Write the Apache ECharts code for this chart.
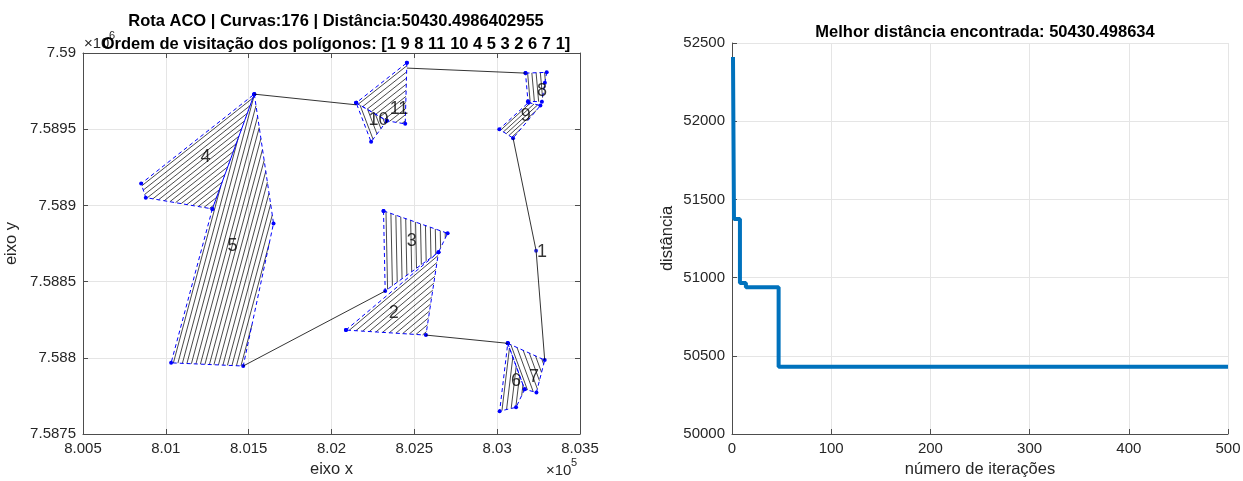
<!DOCTYPE html>
<html><head><meta charset="utf-8">
<script src="https://cdn.jsdelivr.net/npm/echarts@6/dist/echarts.min.js"></script>
<style>html,body{margin:0;padding:0;background:#fff}#c{width:1243px;height:481px}</style>
</head><body><div id="c"></div>
<script>
// ---------- Left plot data (metres, UTM-like) ----------
const poly1X = [803235];                          const poly1Y = [7588703];
const poly2X = [802087, 802646, 802570];          const poly2Y = [7588182, 7588693, 7588149];
const poly3X = [802314, 802701, 802646, 802324];  const poly3Y = [7588964, 7588817, 7588693, 7588438];
const poly4X = [801534, 801281, 800879, 800851];  const poly4Y = [7589730, 7588977, 7589051, 7589143];
const poly5X = [801534, 801650, 801467, 801032, 801281]; const poly5Y = [7589730, 7588882, 7587946, 7587967, 7588977];
const poly6X = [803064, 803166, 803114, 803015];  const poly6Y = [7588095, 7587793, 7587675, 7587650];
const poly7X = [803064, 803287, 803237, 803166];  const poly7Y = [7588095, 7587985, 7587773, 7587793];
const poly8X = [803171, 803299, 803288, 803270, 803186]; const poly8Y = [7589868, 7589873, 7589804, 7589680, 7589683];
const poly9X = [803189, 803261, 803096, 803013];  const poly9Y = [7589675, 7589655, 7589441, 7589500];
const poly10X = [802149, 802334, 802239];         const poly10Y = [7589673, 7589555, 7589417];
const poly11X = [802455, 802445, 802334, 802149]; const poly11Y = [7589936, 7589535, 7589555, 7589673];

// coverage sweep: edge the passes run parallel to, and number of passes
const hatchEdge  = [null, 0, 3, 3, 3, 3, 3, 4, 3, 2, 3];
const hatchCount = [0, 12, 13, 15, 16, 5, 6, 5, 5, 4, 10];

// transit route between polygons (null = break)
const routeX = [803287, 803235, 803096, null, 803171, 802455, null, 802149, 801534, null, 801467, 802324, null, 802570, 803064];
const routeY = [7587985, 7588703, 7589441, null, 7589868, 7589901, null, 7589660, 7589730, null, 7587946, 7588438, null, 7588149, 7588095];

const labelText = ['1','2','3','4','5','6','7','8','9','10','11'];
const labelX = [803237, 802342, 802451, 801206, 801369, 803080, 803189, 803237, 803140, 802221, 802348];
const labelY = [7588694, 7588294, 7588767, 7589318, 7588734, 7587847, 7587874, 7589752, 7589588, 7589561, 7589634];

// ---------- Right plot data ----------
const iterChange = [1, 2, 8, 14, 47, 500];
const bestDist = [52410, 51375, 50965, 50938, 50430.4986, 50430.4986];

const polysX = [poly1X, poly2X, poly3X, poly4X, poly5X, poly6X, poly7X, poly8X, poly9X, poly10X, poly11X];
const polysY = [poly1Y, poly2Y, poly3Y, poly4Y, poly5Y, poly6Y, poly7Y, poly8Y, poly9Y, poly10Y, poly11Y];

function hatchSegments(xs, ys, edge, count) {
  const n = xs.length, segs = [];
  if (edge === null || n < 3) return segs;
  const X = xs.map(v => v - 800000), Y = ys.map(v => v - 7587000);
  const j0 = (edge + 1) % n;
  const dx = X[j0] - X[edge], dy = Y[j0] - Y[edge];
  const nx = -dy, ny = dx;
  const proj = X.map((x, i) => x * nx + Y[i] * ny);
  const tmin = Math.min(...proj), tmax = Math.max(...proj);
  for (let k = 0; k < count; k++) {
    const t = tmin + (k + 0.5) * (tmax - tmin) / count;
    const pts = [];
    for (let i = 0; i < n; i++) {
      const j = (i + 1) % n;
      const sa = proj[i] - t, sb = proj[j] - t;
      if ((sa < 0) !== (sb < 0)) {
        const f = sa / (sa - sb);
        pts.push([xs[i] + (xs[j] - xs[i]) * f, ys[i] + (ys[j] - ys[i]) * f]);
      }
    }
    pts.sort((p, q) => (p[0] * dx + p[1] * dy) - (q[0] * dx + q[1] * dy));
    for (let m = 0; m + 1 < pts.length; m += 2) segs.push({ coords: [pts[m], pts[m + 1]] });
  }
  return segs;
}

let hatch = [];
polysX.forEach((xs, i) => { hatch = hatch.concat(hatchSegments(xs, polysY[i], hatchEdge[i], hatchCount[i])); });

const FONT = 'Liberation Sans, Arial, Helvetica, sans-serif';
const AX = '#4d4d4d', TXT = '#262626', GRID = '#e5e5e5';

const series = [];
series.push({
  type: 'lines', coordinateSystem: 'cartesian2d', xAxisIndex: 0, yAxisIndex: 0,
  data: hatch, silent: true, z: 2,
  lineStyle: { color: '#1a1a1a', width: 0.8, opacity: 1 }
});
polysX.forEach((xs, i) => {
  const ys = polysY[i];
  if (xs.length === 1) {
    series.push({ type: 'scatter', xAxisIndex: 0, yAxisIndex: 0, data: [[xs[0], ys[0]]],
      symbolSize: 4, itemStyle: { color: '#0000ff' }, z: 4, silent: true });
    return;
  }
  const pts = xs.map((x, k) => [x, ys[k]]); pts.push([xs[0], ys[0]]);
  series.push({ type: 'line', xAxisIndex: 0, yAxisIndex: 0, data: pts, z: 3, silent: true,
    symbol: 'circle', symbolSize: 4, showSymbol: true,
    itemStyle: { color: '#0000ff' },
    lineStyle: { color: '#0000ff', width: 1, type: [4, 3] } });
});
series.push({ type: 'line', xAxisIndex: 0, yAxisIndex: 0, z: 5, silent: true,
  data: routeX.map((x, i) => x === null ? ['-', '-'] : [x, routeY[i]]),
  connectNulls: false, symbol: 'none', lineStyle: { color: '#000', width: 0.8 } });
series.push({ type: 'scatter', xAxisIndex: 0, yAxisIndex: 0, z: 6, silent: true,
  data: labelX.map((x, i) => [x, labelY[i], labelText[i]]),
  symbolSize: 1, itemStyle: { color: 'rgba(0,0,0,0)' },
  label: { show: true, position: 'right', distance: 0, formatter: p => p.data[2],
    color: '#000', fontSize: 18, fontFamily: FONT } });
series.push({ type: 'line', xAxisIndex: 2, yAxisIndex: 2, step: 'end', symbol: 'none',
  data: iterChange.map((x, i) => [x, bestDist[i]]),
  lineStyle: { color: '#0072BD', width: 4 }, z: 3 });

const tickLbl = { color: TXT, fontSize: 15, fontFamily: FONT };
const nameSt = { color: TXT, fontSize: 16.5, fontFamily: FONT };
const axLine = { show: true, lineStyle: { color: AX, width: 1 } };
const tickIn = { show: true, inside: true, length: 5, lineStyle: { color: AX } };
const split = { show: true, lineStyle: { color: GRID, width: 1 } };

const option = {
  animation: false,
  backgroundColor: '#fff',
  title: [
    { text: 'Rota ACO | Curvas:176 | Distância:50430.4986402955', left: 331, top: 8, textAlign: 'center',
      textStyle: { fontSize: 16.5, fontWeight: 'bold', color: '#000', fontFamily: FONT } },
    { text: 'Ordem de visitação dos polígonos: [1 9 8 11 10 4 5 3 2 6 7 1]', left: 331, top: 31, textAlign: 'center',
      textStyle: { fontSize: 16.5, fontWeight: 'bold', color: '#000', fontFamily: FONT } },
    { text: 'Melhor distância encontrada: 50430.498634', left: 980, top: 19, textAlign: 'center',
      textStyle: { fontSize: 16.5, fontWeight: 'bold', color: '#000', fontFamily: FONT } }
  ],
  grid: [
    { left: 83, top: 53, width: 497, height: 381, outerBoundsMode: 'none', containLabel: false },
    { left: 732, top: 43, width: 496, height: 391, outerBoundsMode: 'none', containLabel: false }
  ],
  xAxis: [
    { type: 'value', gridIndex: 0, position: 'bottom', min: 800500, max: 803500, interval: 500,
      axisLine: axLine, axisTick: tickIn, splitLine: split,
      axisLabel: Object.assign({ margin: 7, formatter: v => String(Number((v / 1e5).toFixed(4))) }, tickLbl),
      name: 'eixo x', nameLocation: 'middle', nameGap: 26, nameTextStyle: nameSt },
    { type: 'value', gridIndex: 0, position: 'top', min: 800500, max: 803500, interval: 500,
      axisLine: axLine, axisTick: tickIn, splitLine: { show: false }, axisLabel: { show: false } },
    { type: 'value', gridIndex: 1, position: 'bottom', min: 0, max: 500, interval: 100,
      axisLine: axLine, axisTick: tickIn, splitLine: split,
      axisLabel: Object.assign({ margin: 7, formatter: v => String(v) }, tickLbl),
      name: 'número de iterações', nameLocation: 'middle', nameGap: 26, nameTextStyle: nameSt }
  ],
  yAxis: [
    { type: 'value', gridIndex: 0, position: 'left', min: 7587500, max: 7590000, interval: 500,
      axisLine: axLine, axisTick: tickIn, splitLine: split,
      axisLabel: Object.assign({ margin: 7, formatter: v => String(Number((v / 1e6).toFixed(5))) }, tickLbl),
      name: 'eixo y', nameLocation: 'middle', nameGap: 63, nameRotate: 90, nameTextStyle: nameSt },
    { type: 'value', gridIndex: 0, position: 'right', min: 7587500, max: 7590000, interval: 500,
      axisLine: axLine, axisTick: tickIn, splitLine: { show: false }, axisLabel: { show: false } },
    { type: 'value', gridIndex: 1, position: 'left', min: 50000, max: 52500, interval: 500,
      axisLine: axLine, axisTick: tickIn, splitLine: split,
      axisLabel: Object.assign({ margin: 7, formatter: v => String(v) }, tickLbl),
      name: 'distância', nameLocation: 'middle', nameGap: 56, nameRotate: 90, nameTextStyle: nameSt }
  ],
  graphic: [
    { type: 'text', left: 84, top: 36, z: 1, style: { text: '×10', fontSize: 15, fontFamily: FONT, fill: TXT } },
    { type: 'text', left: 109, top: 30, z: 1, style: { text: '6', fontSize: 11, fontFamily: FONT, fill: TXT } },
    { type: 'text', left: 546, top: 463, style: { text: '×10', fontSize: 15, fontFamily: FONT, fill: TXT } },
    { type: 'text', left: 571, top: 457, style: { text: '5', fontSize: 11, fontFamily: FONT, fill: TXT } }
  ],
  series: series
};
const chart = echarts.init(document.getElementById('c'), null, { renderer: 'canvas' });
chart.setOption(option);
</script></body></html>
